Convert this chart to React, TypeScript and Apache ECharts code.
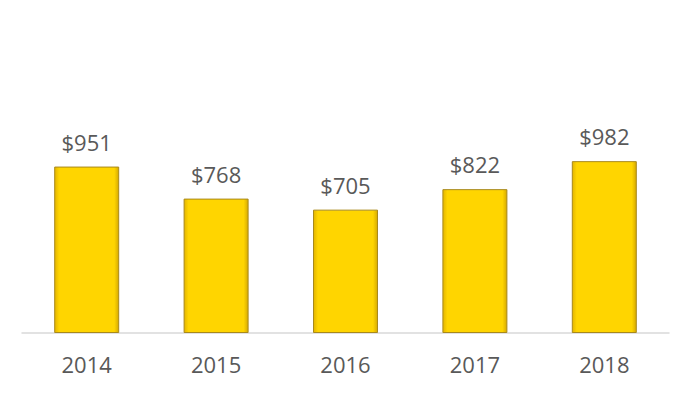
import React, { useEffect, useRef } from "react";
import * as echarts from "echarts";

const categories = ["2014", "2015", "2016", "2017", "2018"];
const values = [951, 768, 705, 822, 982];

export default function App() {
  const ref = useRef<HTMLDivElement>(null);
  useEffect(() => {
    const chart = echarts.init(ref.current!, null, { renderer: "svg" });
    chart.setOption({
      animation: false,
      backgroundColor: "#ffffff",
      grid: { left: 22, right: 22, top: 158, bottom: 60, containLabel: false },
      xAxis: {
        type: "category",
        data: categories,
        axisLine: { lineStyle: { color: "#D9D9D9", width: 1.5 } },
        axisTick: { show: false },
        axisLabel: {
          color: "#595959",
          fontSize: 22,
          fontFamily: "Open Sans",
          margin: 20,
        },
      },
      yAxis: {
        type: "value",
        min: 0,
        max: 1000,
        show: false,
        splitLine: { show: false },
      },
      series: [
        {
          type: "bar",
          data: values,
          barWidth: 65,
          itemStyle: {
            color: new echarts.graphic.LinearGradient(0, 0, 1, 0, [
              { offset: 0, color: "#E3B500" },
              { offset: 0.07, color: "#FFD500" },
              { offset: 0.93, color: "#FFD500" },
              { offset: 1, color: "#D6AA00" },
            ]),
            borderColor: "#A8891C",
            borderWidth: 1,
          },
          label: {
            show: true,
            position: "top",
            distance: 14,
            formatter: (p: any) => "$" + p.value,
            color: "#595959",
            fontSize: 22,
            fontFamily: "Open Sans",
          },
        },
      ],
    });
    return () => chart.dispose();
  }, []);
  return <div ref={ref} style={{ width: 691, height: 393, position: "absolute", left: 0, top: 0 }} />;
}
